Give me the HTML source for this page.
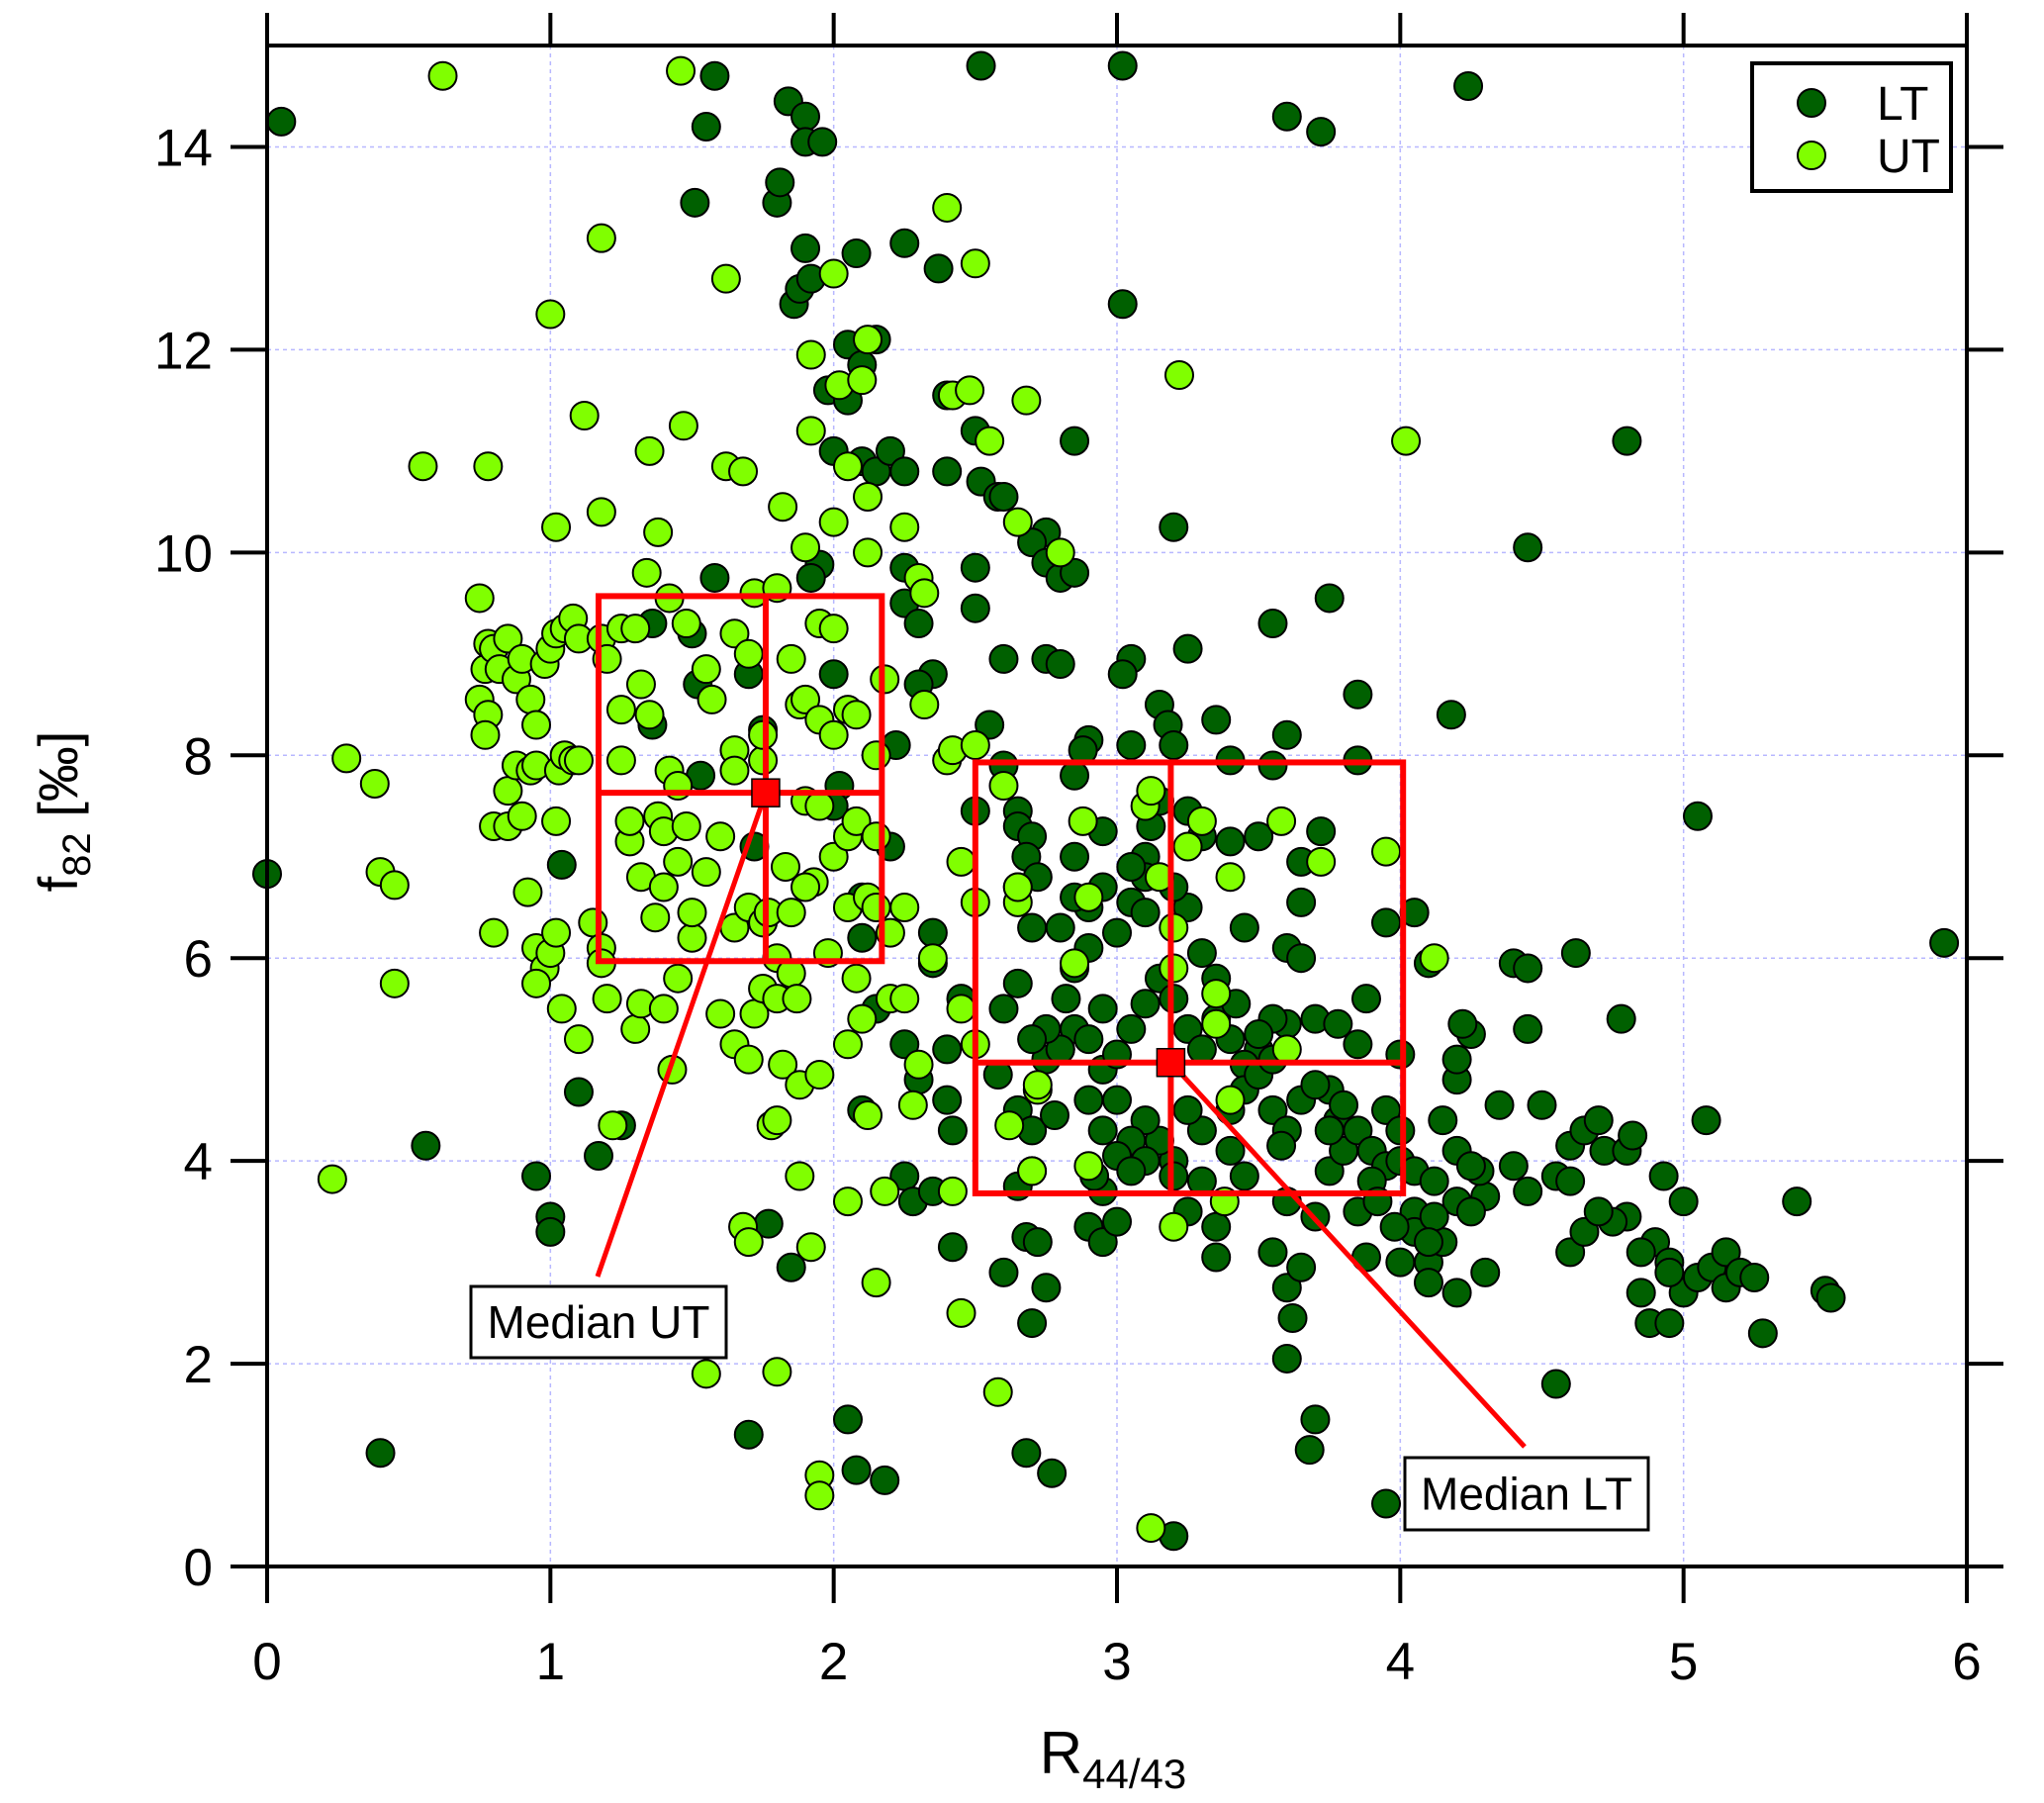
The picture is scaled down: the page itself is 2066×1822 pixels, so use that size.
<!DOCTYPE html>
<html><head><meta charset="utf-8"><style>
html,body{margin:0;padding:0;background:#fff}
svg{display:block;font-family:"Liberation Sans",Arial,sans-serif}
</style></head><body>
<svg id="chart" width="2066" height="1822" viewBox="0 0 2066 1822" xmlns="http://www.w3.org/2000/svg">
<g id="grid"></g>
<g id="points"></g>
<g id="overlay"></g>
<g id="axes"></g>
<text transform="translate(78,820) rotate(-90)" text-anchor="middle" font-size="56">f<tspan font-size="40" dy="13">82</tspan><tspan dy="-13"> [‰]</tspan></text>
<text x="1125" y="1792" text-anchor="middle" font-size="60">R<tspan font-size="42" dy="15">44/43</tspan></text>
<g>
<rect x="1771" y="64" width="201" height="129" fill="#fff" stroke="#000" stroke-width="4"/>
<circle cx="1831" cy="104" r="14" fill="#006000" stroke="#000" stroke-width="2"/>
<text x="1897" y="121" font-size="48">LT</text>
<circle cx="1831" cy="157" r="14" fill="#80ff00" stroke="#000" stroke-width="2"/>
<text x="1897" y="174" font-size="48">UT</text>
</g>
</svg>
<script>
const xTicks=[0,1,2,3,4,5,6];
const yTicks=[0,2,4,6,8,10,12,14];
const ltX=[0.0,0.05,0.4,0.56,0.95,1.0,1.0,1.04,1.1,1.17,1.25,1.36,1.36,1.5,1.52,1.53,1.55,1.58,1.51,1.58,1.7,1.72,1.75,1.8,1.81,1.84,1.86,1.88,1.9,1.9,1.9,1.92,1.96,1.95,1.98,2.0,2.05,2.05,2.08,2.1,2.15,2.0,2.02,2.0,1.92,2.1,2.15,2.2,2.25,2.25,2.37,2.4,2.4,2.5,2.52,2.52,2.5,2.5,2.58,2.6,2.25,2.25,2.3,2.35,2.3,2.22,2.2,2.1,2.1,2.15,2.25,2.3,2.35,2.35,2.4,2.42,2.45,2.4,2.25,2.28,2.35,2.42,2.1,2.05,2.08,2.18,1.7,1.77,1.85,2.6,2.68,2.72,2.75,2.7,2.68,2.77,2.9,2.95,3.0,3.02,3.02,3.2,3.25,3.05,3.02,2.6,2.75,2.8,2.85,2.75,2.7,2.75,2.8,2.85,2.9,2.88,2.85,2.55,2.5,2.6,2.65,2.65,2.7,2.68,2.72,2.65,2.7,2.6,2.65,2.58,2.65,2.7,2.65,2.7,2.75,2.8,2.85,2.9,2.95,2.82,2.85,2.9,2.9,2.95,2.85,2.95,3.0,3.05,3.1,3.1,3.12,3.15,3.18,3.2,3.05,3.15,3.25,3.3,3.4,3.35,3.4,3.55,3.45,3.5,3.55,3.6,3.75,3.85,3.85,3.65,3.72,3.65,3.6,3.65,3.6,3.7,3.78,3.55,3.5,3.45,3.55,3.6,3.58,3.6,3.55,3.6,3.62,3.6,3.68,3.7,3.65,3.7,3.75,3.8,3.78,3.75,3.85,3.9,3.95,3.9,3.85,3.88,3.95,3.85,3.88,3.95,4.05,4.1,4.0,4.0,4.05,4.05,4.1,4.1,4.2,4.15,4.2,4.2,4.15,4.2,4.2,4.25,4.22,4.18,4.4,4.45,4.45,4.35,4.5,4.4,4.45,4.3,4.28,4.3,4.45,4.24,3.6,3.72,4.8,4.78,4.62,4.6,4.65,4.7,4.72,4.8,4.82,4.8,4.75,4.6,4.65,4.7,4.9,4.85,4.95,4.85,4.88,4.95,5.0,4.95,5.05,5.1,5.15,5.15,5.2,5.25,5.28,5.4,5.5,5.52,5.0,4.93,5.08,5.05,5.92,4.55,4.55,4.6,3.2,3.35,3.25,3.3,3.4,3.3,3.25,3.2,3.15,3.1,3.05,3.0,2.95,2.9,2.95,3.0,3.05,3.1,3.15,3.2,3.25,3.3,3.35,3.35,3.3,3.25,3.2,3.1,3.05,2.85,2.8,2.8,2.75,3.0,3.1,3.2,3.05,2.95,2.92,2.7,2.78,3.45,3.4,3.45,3.5,3.55,3.4,3.5,3.42,3.35,3.65,3.7,3.8,3.75,3.95,4.0,3.92,3.98,4.05,4.12,4.12,4.25,4.25,4.0,4.1];
const ltY=[6.83,14.25,1.12,4.15,3.85,3.45,3.3,6.92,4.68,4.05,4.35,8.3,9.3,9.2,8.7,7.8,14.2,14.7,13.45,9.75,8.8,7.1,8.25,13.45,13.65,14.45,12.45,12.6,13,14.3,14.05,12.7,14.05,9.88,11.6,11,11.5,12.05,12.95,11.85,12.1,8.8,7.7,7.5,9.75,10.9,10.8,11,10.8,13.05,12.8,11.55,10.8,11.2,10.7,14.8,9.85,9.45,10.55,10.55,9.85,9.5,9.3,8.8,8.7,8.1,7.1,6.6,6.2,5.5,5.15,4.8,5.95,6.25,4.6,4.3,5.6,5.1,3.85,3.6,3.7,3.15,4.5,1.45,0.95,0.85,1.3,3.38,2.95,2.9,3.25,3.2,2.75,2.4,1.12,0.92,3.35,3.2,3.4,14.8,12.45,10.25,9.05,8.95,8.8,8.95,8.95,8.9,11.1,10.2,10.1,9.9,9.75,9.8,8.15,8.05,7.8,8.3,7.45,7.9,7.45,7.3,7.2,7.0,6.8,6.7,6.3,5.5,5.75,4.85,4.5,4.3,3.75,3.9,5.0,5.1,5.3,5.2,5.5,5.6,5.9,6.1,6.5,6.7,7.0,7.25,6.25,6.55,6.45,7.0,7.3,8.5,8.3,8.1,8.1,7.55,7.45,7.2,7.15,8.35,7.95,7.9,6.3,7.2,9.3,8.2,9.55,8.6,7.95,6.95,7.25,6.55,6.1,6.0,5.35,5.4,5.35,5.4,5.1,4.95,4.5,4.3,4.15,3.6,3.1,2.75,2.45,2.05,1.15,1.45,2.95,3.45,3.9,4.1,4.4,4.7,4.3,4.1,3.95,3.8,3.5,3.05,0.62,5.15,5.6,6.35,6.45,5.95,5.05,4.0,3.5,3.3,3.0,2.8,2.7,3.2,3.6,4.1,4.4,4.8,5.0,5.25,5.35,8.4,5.95,5.9,5.3,4.55,4.55,3.95,3.7,3.65,3.9,2.9,10.05,14.6,14.3,14.15,11.1,5.4,6.05,4.15,4.3,4.4,4.1,4.1,4.25,3.45,3.4,3.1,3.3,3.5,3.2,3.1,3.0,2.7,2.4,2.4,2.7,2.9,2.85,2.95,3.1,2.75,2.9,2.85,2.3,3.6,2.72,2.65,3.6,3.85,4.4,7.4,6.15,1.8,3.85,3.8,0.3,3.05,3.5,3.8,4.1,4.3,4.5,4.0,4.2,4.4,4.2,4.05,4.3,4.6,4.9,5.05,5.3,5.55,5.8,5.6,5.3,5.1,5.4,5.8,6.05,6.5,6.7,6.8,6.9,6.6,6.3,5.1,5.3,4.6,4.0,3.85,3.9,3.7,3.85,5.2,4.45,3.85,4.5,4.7,4.85,5.0,5.2,5.25,5.55,3.35,4.6,4.75,4.55,4.3,4.5,4.3,3.6,3.35,3.9,3.8,3.45,3.95,3.5,3.0,3.2];
const utX=[0.23,0.28,0.38,0.4,0.45,0.45,0.55,0.62,0.75,0.75,0.77,0.78,0.77,0.78,0.8,0.82,0.85,0.88,0.9,0.93,0.95,0.98,1.0,1.02,1.05,1.08,1.1,0.8,0.85,0.78,0.8,0.85,0.88,0.9,0.92,0.93,0.95,0.95,0.98,0.95,1.0,1.02,1.02,1.03,1.05,1.08,1.1,1.0,1.02,1.04,1.1,1.12,1.15,1.18,1.18,1.2,1.18,1.2,1.18,1.18,1.22,1.25,1.25,1.28,1.28,1.25,1.3,1.3,1.32,1.32,1.32,1.35,1.34,1.35,1.37,1.38,1.38,1.4,1.4,1.4,1.42,1.42,1.45,1.45,1.45,1.43,1.47,1.48,1.48,1.5,1.5,1.55,1.55,1.57,1.6,1.6,1.62,1.62,1.46,1.65,1.65,1.65,1.68,1.65,1.65,1.7,1.72,1.7,1.72,1.7,1.75,1.75,1.75,1.77,1.75,1.8,1.8,1.82,1.78,1.8,1.83,1.85,1.85,1.87,1.88,1.88,1.82,1.8,1.85,1.88,1.9,1.9,1.9,1.92,1.92,1.95,1.95,1.95,1.93,1.9,1.98,2.0,2.0,2.0,1.95,1.92,1.95,1.95,2.0,2.0,2.02,2.05,2.05,2.08,2.05,2.08,2.05,2.08,2.05,2.1,2.05,2.1,2.12,2.12,2.12,2.15,2.18,2.15,2.12,2.15,2.12,2.15,2.18,2.2,2.25,2.2,2.25,2.28,2.3,2.3,2.25,2.32,2.32,2.35,2.4,2.42,2.4,2.42,2.45,2.45,2.45,2.48,2.5,2.5,2.5,2.5,2.55,2.6,2.62,2.65,2.65,2.65,2.68,2.7,2.72,2.72,2.58,1.55,1.8,1.68,1.7,2.8,2.85,2.88,2.9,2.9,3.1,3.12,3.15,3.2,3.2,3.2,3.22,3.25,3.3,3.35,3.35,3.38,3.4,3.4,3.58,3.6,3.72,3.95,4.02,4.12,3.12,2.42];
const utY=[3.82,7.97,7.72,6.85,6.72,5.75,10.85,14.7,9.55,8.55,8.85,8.4,8.2,9.1,9.05,8.85,9.15,8.75,8.95,8.55,8.3,8.9,9.05,9.2,9.25,9.35,9.15,7.3,7.3,10.85,6.25,7.65,7.9,7.4,6.65,7.85,7.9,6.1,5.9,5.75,6.05,6.25,7.35,7.85,8.0,7.95,7.95,12.35,10.25,5.5,5.2,11.35,6.35,6.1,5.95,5.6,9.15,8.95,10.4,13.1,4.35,9.25,8.45,7.15,7.35,7.95,5.3,9.25,8.7,6.8,5.55,8.4,9.8,11.0,6.4,10.2,7.4,7.25,6.7,5.5,9.55,7.85,7.7,6.95,5.8,4.9,11.25,9.3,7.3,6.2,6.45,6.85,8.85,8.55,7.2,5.45,10.85,12.7,14.75,9.2,8.05,7.85,10.8,6.3,5.15,9.0,9.6,6.5,5.45,5.0,7.95,8.2,6.35,6.45,5.7,6.0,5.6,4.95,4.35,4.4,6.9,6.45,5.85,5.6,4.75,3.85,10.45,9.65,8.95,8.5,8.55,10.05,7.55,11.95,11.2,9.3,8.35,7.5,6.75,6.7,6.05,9.25,8.2,7.0,4.85,3.15,0.9,0.7,12.75,10.3,11.65,10.85,8.45,8.4,7.2,7.35,6.5,5.8,5.15,5.4,3.6,11.7,12.1,10.55,10.0,8.0,8.75,7.2,6.6,6.5,4.45,2.8,3.7,6.25,6.5,5.6,5.6,4.55,4.95,9.75,10.25,9.6,8.5,6.0,7.95,8.05,13.4,11.55,6.95,5.5,2.5,11.6,12.85,8.1,5.15,6.55,11.1,7.7,4.35,6.55,6.7,10.3,11.5,3.9,4.7,4.75,1.72,1.9,1.92,3.35,3.2,10.0,5.95,7.35,6.6,3.95,7.5,7.65,6.8,6.3,5.9,3.35,11.75,7.1,7.35,5.65,5.35,3.6,4.6,6.8,7.35,5.1,6.95,7.05,11.1,6.0,0.38,3.7];
// median boxes: [xmin, xmax, ymin, ymax, medianX, medianY]
const utBox=[1.17,2.17,5.97,9.57,1.76,7.63];
const ltBox=[2.5,4.01,3.68,7.93,3.19,4.97];

const NS='http://www.w3.org/2000/svg';
const L=270,R=1988,T=46,B=1583,XMAX=6,YMAX=15;
function sx(v){return L+v*(R-L)/XMAX;}
function sy(v){return B-v*(B-T)/YMAX;}
function mk(tag,attrs,parent){const e=document.createElementNS(NS,tag);for(const k in attrs)e.setAttribute(k,attrs[k]);parent.appendChild(e);return e;}
const grid=document.getElementById('grid'),pts=document.getElementById('points'),ov=document.getElementById('overlay'),ax=document.getElementById('axes');

xTicks.forEach(t=>{if(t>0&&t<XMAX){const g=mk('line',{x1:sx(t),x2:sx(t),y1:T,y2:B,stroke:'#b8b8ff','stroke-width':1.5,'stroke-dasharray':'4,4'},grid);

}});
yTicks.forEach(t=>{if(t>0){const g=mk('line',{x1:L,x2:R,y1:sy(t),y2:sy(t),stroke:'#b8b8ff','stroke-width':1.5,'stroke-dasharray':'4,4'},grid);

}});

function drawSeries(xs,ys,fill,name){for(let i=0;i<xs.length;i++){const c=mk('circle',{cx:sx(xs[i]),cy:sy(ys[i]),r:14,fill:fill,stroke:'#000','stroke-width':2},pts);

}}
drawSeries(ltX,ltY,'#006000','lt-point');
drawSeries(utX,utY,'#80ff00','ut-point');

function drawBox(b,name,lx,ly){
const r=mk('rect',{x:sx(b[0]),y:sy(b[3]),width:sx(b[1])-sx(b[0]),height:sy(b[2])-sy(b[3]),fill:'none',stroke:'#ff0000','stroke-width':6},ov);


const v=mk('line',{x1:sx(b[4]),x2:sx(b[4]),y1:sy(b[3]),y2:sy(b[2]),stroke:'#ff0000','stroke-width':6},ov);


const h=mk('line',{x1:sx(b[0]),x2:sx(b[1]),y1:sy(b[5]),y2:sy(b[5]),stroke:'#ff0000','stroke-width':6},ov);


const p=mk('line',{x1:sx(b[4]),y1:sy(b[5]),x2:lx,y2:ly,stroke:'#ff0000','stroke-width':5},ov);


const m=mk('rect',{x:sx(b[4])-14,y:sy(b[5])-14,width:28,height:28,fill:'#ff0000',stroke:'#000','stroke-width':1.5},ov);


}
drawBox(utBox,'ut',604,1290);
drawBox(ltBox,'lt',1541,1462);

function label(x,y,w,h,txt,name){
const r=mk('rect',{x:x,y:y,width:w,height:h,fill:'#fff',stroke:'#000','stroke-width':3},ov);


const t=mk('text',{x:x+w/2,y:y+h/2+16,'text-anchor':'middle','font-size':46},ov);t.textContent=txt;


}
label(476,1300,258,72,'Median UT','median-ut-label');
label(1420,1473,246,73,'Median LT','median-lt-label');

const fr=mk('rect',{x:L,y:T,width:R-L,height:B-T,fill:'none',stroke:'#000','stroke-width':4},ax);


xTicks.forEach(t=>{
const a=mk('line',{x1:sx(t),x2:sx(t),y1:B,y2:B+37,stroke:'#000','stroke-width':4},ax);


const b=mk('line',{x1:sx(t),x2:sx(t),y1:T,y2:T-33,stroke:'#000','stroke-width':4},ax);


const l=mk('text',{x:sx(t),y:B+114,'text-anchor':'middle','font-size':53},ax);l.textContent=t;


});
yTicks.forEach(t=>{
const a=mk('line',{x1:L-37,x2:L,y1:sy(t),y2:sy(t),stroke:'#000','stroke-width':4},ax);


const b=mk('line',{x1:R,x2:R+37,y1:sy(t),y2:sy(t),stroke:'#000','stroke-width':4},ax);


const l=mk('text',{x:L-55,y:sy(t)+19,'text-anchor':'end','font-size':53},ax);l.textContent=t;


});
</script>
</body></html>
